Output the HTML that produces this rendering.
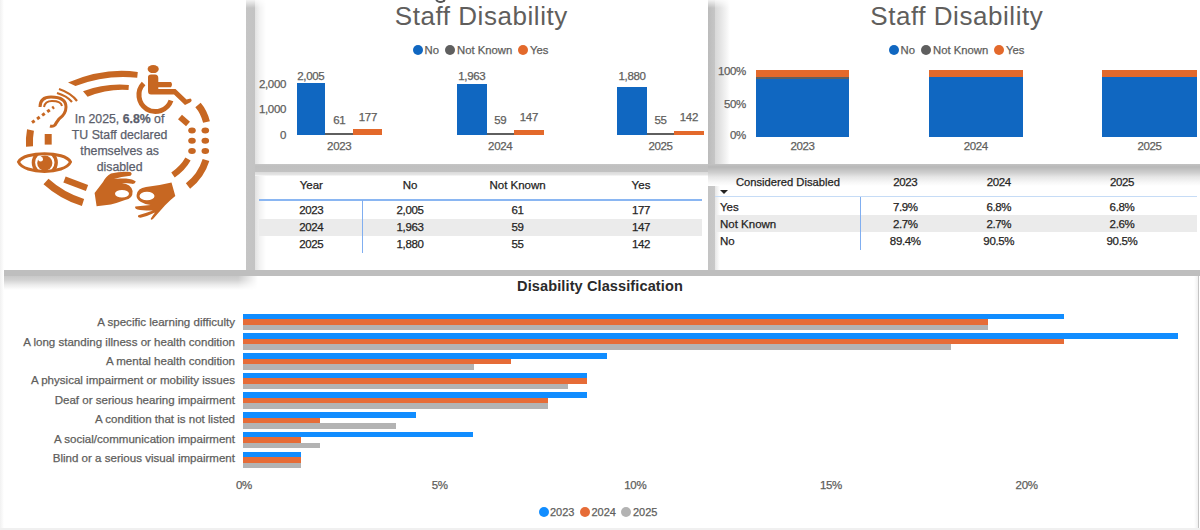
<!DOCTYPE html>
<html><head><meta charset="utf-8">
<style>
*{margin:0;padding:0;box-sizing:border-box}
html,body{width:1200px;height:530px;overflow:hidden;background:#fff;font-family:"Liberation Sans",sans-serif}
.abs{position:absolute}
.t{position:absolute;white-space:nowrap;line-height:1;-webkit-text-stroke:0.25px currentColor}
</style></head><body>
<div class="abs" style="left:246px;top:0;width:20px;height:276px;background:linear-gradient(90deg,#c5c5c5 0,#c3c3c3 9px,#e3e3e3 9.5px,#f3f3f3 14px,#fff 20px);-webkit-mask-image:linear-gradient(180deg,rgba(0,0,0,.2) 0,#000 8px)"></div>
<div class="abs" style="left:708px;top:0;width:22px;height:164px;background:linear-gradient(90deg,#bbbbbb 0,#c2c2c2 4px,#c6c6c6 7px,#d9d9d9 7.5px,#e3e3e3 12px,#f3f3f3 18px,#fff 22px);-webkit-mask-image:linear-gradient(180deg,rgba(0,0,0,.2) 0,#000 8px)"></div>
<div class="abs" style="left:708px;top:164px;width:12px;height:112px;background:linear-gradient(90deg,#c4c4c4 0,#c8c8c8 6.5px,#e6e6e6 7px,#fff 12px)"></div>
<div class="abs" style="left:255px;top:163.5px;width:453px;height:12px;background:linear-gradient(180deg,#c6c6c6 0,#bfbfbf 2px,#c2c2c2 7.5px,#dcdcdc 8.5px,#e6e6e6 11px,#fff 12px)"></div>
<div class="abs" style="left:708px;top:163.8px;width:492px;height:22px;background:linear-gradient(180deg,#c2c2c2 0,#b8b8b8 3px,#d0d0d0 9px,#e6e6e6 13px,#f6f6f6 18px,#fff 22px)"></div>
<div class="abs" style="left:0;top:270px;width:1200px;height:6px;background:#bebebe"></div>
<div class="abs" style="left:0;top:276px;width:266px;height:14px;background:linear-gradient(180deg,#c8c8c8 0,#d2d2d2 4px,#ececec 9px,#fff 14px);-webkit-mask-image:linear-gradient(90deg,#000 238px,transparent 258px)"></div>
<div class="t" style="left:481.3px;top:2.9px;font-size:26px;color:#605e5c;font-weight:normal;transform:translateX(-50%);letter-spacing:0.55px;-webkit-text-stroke:0">Staff Disability</div>
<div class="abs" style="left:413.0px;top:45.0px;width:10.0px;height:10.0px;border-radius:50%;background:#1067c1"></div>
<div class="t" style="left:424.5px;top:44.5px;font-size:11.3px;color:#605e5c;font-weight:normal;transform:none;">No</div>
<div class="abs" style="left:445.0px;top:45.0px;width:10.0px;height:10.0px;border-radius:50%;background:#5f5f5f"></div>
<div class="t" style="left:457.0px;top:44.5px;font-size:11.3px;color:#605e5c;font-weight:normal;transform:none;">Not Known</div>
<div class="abs" style="left:518.0px;top:45.0px;width:10.0px;height:10.0px;border-radius:50%;background:#e3692b"></div>
<div class="t" style="left:530.0px;top:44.5px;font-size:11.3px;color:#605e5c;font-weight:normal;transform:none;">Yes</div>
<div class="t" style="left:286.0px;top:78.9px;font-size:11.5px;color:#605e5c;font-weight:normal;transform:translateX(-100%);letter-spacing:-0.35px;">2,000</div>
<div class="t" style="left:286.0px;top:103.8px;font-size:11.5px;color:#605e5c;font-weight:normal;transform:translateX(-100%);letter-spacing:-0.35px;">1,000</div>
<div class="t" style="left:286.0px;top:130.4px;font-size:11.5px;color:#605e5c;font-weight:normal;transform:translateX(-100%);letter-spacing:-0.35px;">0</div>
<div class="abs" style="left:296.6px;top:83.2px;width:28.4px;height:51.4px;background:#1067c1;"></div>
<div class="abs" style="left:325.0px;top:132.6px;width:28.4px;height:2.0px;background:#5f5f5f;"></div>
<div class="abs" style="left:353.4px;top:129.4px;width:29.1px;height:5.2px;background:#e3692b;"></div>
<div class="t" style="left:310.8px;top:70.6px;font-size:11.5px;color:#605e5c;font-weight:normal;transform:translateX(-50%);letter-spacing:-0.35px;">2,005</div>
<div class="t" style="left:339.2px;top:114.9px;font-size:11.5px;color:#605e5c;font-weight:normal;transform:translateX(-50%);letter-spacing:-0.35px;">61</div>
<div class="t" style="left:367.9px;top:112.4px;font-size:11.5px;color:#605e5c;font-weight:normal;transform:translateX(-50%);letter-spacing:-0.35px;">177</div>
<div class="t" style="left:339.2px;top:141.4px;font-size:11.5px;color:#605e5c;font-weight:normal;transform:translateX(-50%);letter-spacing:-0.35px;">2023</div>
<div class="abs" style="left:456.9px;top:84.3px;width:29.7px;height:50.3px;background:#1067c1;"></div>
<div class="abs" style="left:486.6px;top:132.6px;width:27.2px;height:2.0px;background:#5f5f5f;"></div>
<div class="abs" style="left:513.8px;top:130.4px;width:30.2px;height:4.2px;background:#e3692b;"></div>
<div class="t" style="left:471.8px;top:70.6px;font-size:11.5px;color:#605e5c;font-weight:normal;transform:translateX(-50%);letter-spacing:-0.35px;">1,963</div>
<div class="t" style="left:500.2px;top:114.9px;font-size:11.5px;color:#605e5c;font-weight:normal;transform:translateX(-50%);letter-spacing:-0.35px;">59</div>
<div class="t" style="left:528.9px;top:112.4px;font-size:11.5px;color:#605e5c;font-weight:normal;transform:translateX(-50%);letter-spacing:-0.35px;">147</div>
<div class="t" style="left:500.2px;top:141.4px;font-size:11.5px;color:#605e5c;font-weight:normal;transform:translateX(-50%);letter-spacing:-0.35px;">2024</div>
<div class="abs" style="left:617.0px;top:86.5px;width:30.0px;height:48.1px;background:#1067c1;"></div>
<div class="abs" style="left:647.0px;top:132.6px;width:27.0px;height:2.0px;background:#5f5f5f;"></div>
<div class="abs" style="left:674.0px;top:130.6px;width:29.7px;height:4.0px;background:#e3692b;"></div>
<div class="t" style="left:632.0px;top:70.6px;font-size:11.5px;color:#605e5c;font-weight:normal;transform:translateX(-50%);letter-spacing:-0.35px;">1,880</div>
<div class="t" style="left:660.5px;top:114.9px;font-size:11.5px;color:#605e5c;font-weight:normal;transform:translateX(-50%);letter-spacing:-0.35px;">55</div>
<div class="t" style="left:688.9px;top:112.4px;font-size:11.5px;color:#605e5c;font-weight:normal;transform:translateX(-50%);letter-spacing:-0.35px;">142</div>
<div class="t" style="left:660.5px;top:141.4px;font-size:11.5px;color:#605e5c;font-weight:normal;transform:translateX(-50%);letter-spacing:-0.35px;">2025</div>
<div class="t" style="left:956.8px;top:2.9px;font-size:26px;color:#605e5c;font-weight:normal;transform:translateX(-50%);letter-spacing:0.55px;-webkit-text-stroke:0">Staff Disability</div>
<div class="abs" style="left:889.0px;top:45.0px;width:10.0px;height:10.0px;border-radius:50%;background:#1067c1"></div>
<div class="t" style="left:900.5px;top:44.5px;font-size:11.3px;color:#605e5c;font-weight:normal;transform:none;">No</div>
<div class="abs" style="left:921.0px;top:45.0px;width:10.0px;height:10.0px;border-radius:50%;background:#5f5f5f"></div>
<div class="t" style="left:933.0px;top:44.5px;font-size:11.3px;color:#605e5c;font-weight:normal;transform:none;">Not Known</div>
<div class="abs" style="left:994.0px;top:45.0px;width:10.0px;height:10.0px;border-radius:50%;background:#e3692b"></div>
<div class="t" style="left:1006.0px;top:44.5px;font-size:11.3px;color:#605e5c;font-weight:normal;transform:none;">Yes</div>
<div class="t" style="left:746.0px;top:66.2px;font-size:11.5px;color:#605e5c;font-weight:normal;transform:translateX(-100%);letter-spacing:-0.35px;">100%</div>
<div class="t" style="left:746.0px;top:98.8px;font-size:11.5px;color:#605e5c;font-weight:normal;transform:translateX(-100%);letter-spacing:-0.35px;">50%</div>
<div class="t" style="left:746.0px;top:130.4px;font-size:11.5px;color:#605e5c;font-weight:normal;transform:translateX(-100%);letter-spacing:-0.35px;">0%</div>
<div class="abs" style="left:756.0px;top:70.0px;width:93.0px;height:67.0px;background:#1067c1;"></div>
<div class="abs" style="left:756.0px;top:70.0px;width:93.0px;height:8.5px;background:#5f5f5f;"></div>
<div class="abs" style="left:756.0px;top:70.0px;width:93.0px;height:7.0px;background:#e3692b;"></div>
<div class="t" style="left:802.5px;top:141.1px;font-size:11.5px;color:#605e5c;font-weight:normal;transform:translateX(-50%);letter-spacing:-0.35px;">2023</div>
<div class="abs" style="left:929.0px;top:70.0px;width:93.5px;height:67.0px;background:#1067c1;"></div>
<div class="abs" style="left:929.0px;top:70.0px;width:93.5px;height:7.0px;background:#e3692b;"></div>
<div class="t" style="left:975.8px;top:141.1px;font-size:11.5px;color:#605e5c;font-weight:normal;transform:translateX(-50%);letter-spacing:-0.35px;">2024</div>
<div class="abs" style="left:1102.0px;top:70.0px;width:95.0px;height:67.0px;background:#1067c1;"></div>
<div class="abs" style="left:1102.0px;top:70.0px;width:95.0px;height:7.0px;background:#e3692b;"></div>
<div class="t" style="left:1149.5px;top:141.1px;font-size:11.5px;color:#605e5c;font-weight:normal;transform:translateX(-50%);letter-spacing:-0.35px;">2025</div>
<div class="t" style="left:311.3px;top:180.4px;font-size:11.5px;color:#252423;font-weight:normal;transform:translateX(-50%);">Year</div>
<div class="t" style="left:410.0px;top:180.4px;font-size:11.5px;color:#252423;font-weight:normal;transform:translateX(-50%);">No</div>
<div class="t" style="left:517.6px;top:180.4px;font-size:11.5px;color:#252423;font-weight:normal;transform:translateX(-50%);">Not Known</div>
<div class="t" style="left:641.0px;top:180.4px;font-size:11.5px;color:#252423;font-weight:normal;transform:translateX(-50%);">Yes</div>
<div class="abs" style="left:258.5px;top:199.2px;width:443.5px;height:1.4px;background:#8ab6f2;"></div>
<div class="abs" style="left:258.5px;top:218.5px;width:443.5px;height:17.0px;background:#ebebeb;"></div>
<div class="abs" style="left:362.0px;top:200.0px;width:1.3px;height:53.0px;background:#80aef0;"></div>
<div class="t" style="left:311.3px;top:205.0px;font-size:11.5px;color:#252423;font-weight:normal;transform:translateX(-50%);letter-spacing:-0.35px;">2023</div>
<div class="t" style="left:410.0px;top:205.0px;font-size:11.5px;color:#252423;font-weight:normal;transform:translateX(-50%);letter-spacing:-0.35px;">2,005</div>
<div class="t" style="left:517.6px;top:205.0px;font-size:11.5px;color:#252423;font-weight:normal;transform:translateX(-50%);letter-spacing:-0.35px;">61</div>
<div class="t" style="left:641.0px;top:205.0px;font-size:11.5px;color:#252423;font-weight:normal;transform:translateX(-50%);letter-spacing:-0.35px;">177</div>
<div class="t" style="left:311.3px;top:221.9px;font-size:11.5px;color:#252423;font-weight:normal;transform:translateX(-50%);letter-spacing:-0.35px;">2024</div>
<div class="t" style="left:410.0px;top:221.9px;font-size:11.5px;color:#252423;font-weight:normal;transform:translateX(-50%);letter-spacing:-0.35px;">1,963</div>
<div class="t" style="left:517.6px;top:221.9px;font-size:11.5px;color:#252423;font-weight:normal;transform:translateX(-50%);letter-spacing:-0.35px;">59</div>
<div class="t" style="left:641.0px;top:221.9px;font-size:11.5px;color:#252423;font-weight:normal;transform:translateX(-50%);letter-spacing:-0.35px;">147</div>
<div class="t" style="left:311.3px;top:238.9px;font-size:11.5px;color:#252423;font-weight:normal;transform:translateX(-50%);letter-spacing:-0.35px;">2025</div>
<div class="t" style="left:410.0px;top:238.9px;font-size:11.5px;color:#252423;font-weight:normal;transform:translateX(-50%);letter-spacing:-0.35px;">1,880</div>
<div class="t" style="left:517.6px;top:238.9px;font-size:11.5px;color:#252423;font-weight:normal;transform:translateX(-50%);letter-spacing:-0.35px;">55</div>
<div class="t" style="left:641.0px;top:238.9px;font-size:11.5px;color:#252423;font-weight:normal;transform:translateX(-50%);letter-spacing:-0.35px;">142</div>
<div class="t" style="left:736.0px;top:177.1px;font-size:11.2px;color:#252423;font-weight:normal;transform:none;">Considered Disabled</div>
<div class="abs" style="left:719.5px;top:190px;width:0;height:0;border-left:4px solid transparent;border-right:4px solid transparent;border-top:4px solid #252423"></div>
<div class="t" style="left:905.3px;top:177.0px;font-size:11.5px;color:#252423;font-weight:normal;transform:translateX(-50%);letter-spacing:-0.35px;">2023</div>
<div class="t" style="left:998.8px;top:177.0px;font-size:11.5px;color:#252423;font-weight:normal;transform:translateX(-50%);letter-spacing:-0.35px;">2024</div>
<div class="t" style="left:1122.0px;top:177.0px;font-size:11.5px;color:#252423;font-weight:normal;transform:translateX(-50%);letter-spacing:-0.35px;">2025</div>
<div class="abs" style="left:714.5px;top:196.0px;width:482.5px;height:1.2px;background:#c6dcf6;"></div>
<div class="abs" style="left:714.5px;top:214.8px;width:482.5px;height:17.0px;background:#ebebeb;"></div>
<div class="abs" style="left:860.0px;top:197.0px;width:1.3px;height:52.6px;background:#80aef0;"></div>
<div class="t" style="left:720.0px;top:201.9px;font-size:11.5px;color:#252423;font-weight:normal;transform:none;">Yes</div>
<div class="t" style="left:905.3px;top:201.9px;font-size:11.5px;color:#252423;font-weight:normal;transform:translateX(-50%);letter-spacing:-0.35px;">7.9%</div>
<div class="t" style="left:998.8px;top:201.9px;font-size:11.5px;color:#252423;font-weight:normal;transform:translateX(-50%);letter-spacing:-0.35px;">6.8%</div>
<div class="t" style="left:1122.0px;top:201.9px;font-size:11.5px;color:#252423;font-weight:normal;transform:translateX(-50%);letter-spacing:-0.35px;">6.8%</div>
<div class="t" style="left:720.0px;top:218.9px;font-size:11.5px;color:#252423;font-weight:normal;transform:none;">Not Known</div>
<div class="t" style="left:905.3px;top:218.9px;font-size:11.5px;color:#252423;font-weight:normal;transform:translateX(-50%);letter-spacing:-0.35px;">2.7%</div>
<div class="t" style="left:998.8px;top:218.9px;font-size:11.5px;color:#252423;font-weight:normal;transform:translateX(-50%);letter-spacing:-0.35px;">2.7%</div>
<div class="t" style="left:1122.0px;top:218.9px;font-size:11.5px;color:#252423;font-weight:normal;transform:translateX(-50%);letter-spacing:-0.35px;">2.6%</div>
<div class="t" style="left:720.0px;top:236.2px;font-size:11.5px;color:#252423;font-weight:normal;transform:none;">No</div>
<div class="t" style="left:905.3px;top:236.2px;font-size:11.5px;color:#252423;font-weight:normal;transform:translateX(-50%);letter-spacing:-0.35px;">89.4%</div>
<div class="t" style="left:998.8px;top:236.2px;font-size:11.5px;color:#252423;font-weight:normal;transform:translateX(-50%);letter-spacing:-0.35px;">90.5%</div>
<div class="t" style="left:1122.0px;top:236.2px;font-size:11.5px;color:#252423;font-weight:normal;transform:translateX(-50%);letter-spacing:-0.35px;">90.5%</div>
<div class="t" style="left:600.0px;top:278.9px;font-size:14.55px;color:#2a2a2a;font-weight:bold;transform:translateX(-50%);-webkit-text-stroke:0;letter-spacing:0.1px">Disability Classification</div>
<div class="abs" style="left:242.8px;top:313.6px;width:821.7px;height:5.5px;background:#118dff;"></div>
<div class="abs" style="left:242.8px;top:319.1px;width:745.4px;height:5.5px;background:#e66c37;"></div>
<div class="abs" style="left:242.8px;top:324.6px;width:745.4px;height:5.5px;background:#b3b3b3;"></div>
<div class="t" style="left:235.0px;top:317.0px;font-size:11.56px;color:#605e5c;font-weight:normal;transform:translateX(-100%);">A specific learning difficulty</div>
<div class="abs" style="left:242.8px;top:333.3px;width:935.2px;height:5.5px;background:#118dff;"></div>
<div class="abs" style="left:242.8px;top:338.8px;width:821.7px;height:5.5px;background:#e66c37;"></div>
<div class="abs" style="left:242.8px;top:344.3px;width:708.3px;height:5.5px;background:#b3b3b3;"></div>
<div class="t" style="left:235.0px;top:336.5px;font-size:11.56px;color:#605e5c;font-weight:normal;transform:translateX(-100%);">A long standing illness or health condition</div>
<div class="abs" style="left:242.8px;top:353.0px;width:363.9px;height:5.5px;background:#118dff;"></div>
<div class="abs" style="left:242.8px;top:358.5px;width:268.0px;height:5.5px;background:#e66c37;"></div>
<div class="abs" style="left:242.8px;top:364.0px;width:230.9px;height:5.5px;background:#b3b3b3;"></div>
<div class="t" style="left:235.0px;top:356.0px;font-size:11.56px;color:#605e5c;font-weight:normal;transform:translateX(-100%);">A mental health condition</div>
<div class="abs" style="left:242.8px;top:372.7px;width:344.3px;height:5.5px;background:#118dff;"></div>
<div class="abs" style="left:242.8px;top:378.2px;width:344.3px;height:5.5px;background:#e66c37;"></div>
<div class="abs" style="left:242.8px;top:383.7px;width:324.8px;height:5.5px;background:#b3b3b3;"></div>
<div class="t" style="left:235.0px;top:375.4px;font-size:11.56px;color:#605e5c;font-weight:normal;transform:translateX(-100%);">A physical impairment or mobility issues</div>
<div class="abs" style="left:242.8px;top:392.4px;width:344.3px;height:5.5px;background:#118dff;"></div>
<div class="abs" style="left:242.8px;top:397.9px;width:305.2px;height:5.5px;background:#e66c37;"></div>
<div class="abs" style="left:242.8px;top:403.4px;width:305.2px;height:5.5px;background:#b3b3b3;"></div>
<div class="t" style="left:235.0px;top:394.9px;font-size:11.56px;color:#605e5c;font-weight:normal;transform:translateX(-100%);">Deaf or serious hearing impairment</div>
<div class="abs" style="left:242.8px;top:412.1px;width:173.0px;height:5.5px;background:#118dff;"></div>
<div class="abs" style="left:242.8px;top:417.6px;width:77.1px;height:5.5px;background:#e66c37;"></div>
<div class="abs" style="left:242.8px;top:423.1px;width:153.4px;height:5.5px;background:#b3b3b3;"></div>
<div class="t" style="left:235.0px;top:414.3px;font-size:11.56px;color:#605e5c;font-weight:normal;transform:translateX(-100%);">A condition that is not listed</div>
<div class="abs" style="left:242.8px;top:431.8px;width:230.1px;height:5.5px;background:#118dff;"></div>
<div class="abs" style="left:242.8px;top:437.3px;width:58.7px;height:5.5px;background:#e66c37;"></div>
<div class="abs" style="left:242.8px;top:442.8px;width:77.1px;height:5.5px;background:#b3b3b3;"></div>
<div class="t" style="left:235.0px;top:433.8px;font-size:11.56px;color:#605e5c;font-weight:normal;transform:translateX(-100%);">A social/communication impairment</div>
<div class="abs" style="left:242.8px;top:451.5px;width:58.7px;height:5.5px;background:#118dff;"></div>
<div class="abs" style="left:242.8px;top:457.0px;width:58.7px;height:5.5px;background:#e66c37;"></div>
<div class="abs" style="left:242.8px;top:462.5px;width:58.7px;height:5.5px;background:#b3b3b3;"></div>
<div class="t" style="left:235.0px;top:453.3px;font-size:11.56px;color:#605e5c;font-weight:normal;transform:translateX(-100%);">Blind or a serious visual impairment</div>
<div class="t" style="left:244.0px;top:480.4px;font-size:11.5px;color:#605e5c;font-weight:normal;transform:translateX(-50%);letter-spacing:-0.35px;">0%</div>
<div class="t" style="left:439.6px;top:480.4px;font-size:11.5px;color:#605e5c;font-weight:normal;transform:translateX(-50%);letter-spacing:-0.35px;">5%</div>
<div class="t" style="left:635.3px;top:480.4px;font-size:11.5px;color:#605e5c;font-weight:normal;transform:translateX(-50%);letter-spacing:-0.35px;">10%</div>
<div class="t" style="left:831.0px;top:480.4px;font-size:11.5px;color:#605e5c;font-weight:normal;transform:translateX(-50%);letter-spacing:-0.35px;">15%</div>
<div class="t" style="left:1026.6px;top:480.4px;font-size:11.5px;color:#605e5c;font-weight:normal;transform:translateX(-50%);letter-spacing:-0.35px;">20%</div>
<div class="abs" style="left:539.0px;top:507.0px;width:10.0px;height:10.0px;border-radius:50%;background:#118dff"></div>
<div class="t" style="left:550.0px;top:506.6px;font-size:11px;color:#605e5c;font-weight:normal;transform:none;">2023</div>
<div class="abs" style="left:580.0px;top:507.0px;width:10.0px;height:10.0px;border-radius:50%;background:#e66c37"></div>
<div class="t" style="left:591.5px;top:506.6px;font-size:11px;color:#605e5c;font-weight:normal;transform:none;">2024</div>
<div class="abs" style="left:621.0px;top:507.0px;width:10.0px;height:10.0px;border-radius:50%;background:#b3b3b3"></div>
<div class="t" style="left:633.0px;top:506.6px;font-size:11px;color:#605e5c;font-weight:normal;transform:none;">2025</div>
<div class="abs" style="left:1197.6px;top:276.0px;width:1.6px;height:254.0px;background:#c4c4c4;"></div>
<div class="abs" style="left:1194.0px;top:276.0px;width:3.6px;height:254.0px;background:linear-gradient(90deg,#fff,#f0f0f0);"></div>
<div class="abs" style="left:435px;top:-4px;width:10.5px;height:6.5px;border:2.2px solid #555;border-top:none;border-radius:0 0 5px 5px"></div>
<div class="abs" style="left:0;top:0;width:4px;height:530px;background:linear-gradient(90deg,#f1f1f1,#fff)"></div>
<div class="abs" style="left:0.0px;top:528.0px;width:1200.0px;height:2.0px;background:#f0f0f0;"></div>
<svg class="abs" style="left:0;top:0" width="246" height="270" viewBox="0 0 246 270">
<defs><clipPath id="eyeclip"><path d="M18.5,162 C24,151 65,151 70.5,162 C65,174.5 24,174.5 18.5,162 Z"/></clipPath></defs>
<g fill="none" stroke="#c76722" stroke-linecap="butt">
 <!-- outer dashed ellipse -->
 <path d="M68,82.4 Q105,67 137.8,72 L137.2,77.8 Q106,74.4 75.5,86 Z" fill="#c76722" stroke="none"/>
 <path d="M30.5,130 Q29,138 29.5,146.5" stroke-width="7"/>
 <path d="M46,181.5 Q62,196 83,202.5" stroke-width="7.5"/>
 <path d="M198,105 Q204,112 206.5,122" stroke-width="7"/>
 <path d="M206,160 Q201,176 188,186" stroke-width="7"/>
 <!-- inner dashed ellipse -->
 <path d="M83,91.3 Q105,83 128.9,85 L128.5,90 Q108,88.5 87.6,96.8 Z" fill="#c76722" stroke="none"/>
 <path d="M48.2,134 L48.2,144.6" stroke-width="7"/>
 <path d="M64.5,179.5 L87,188" stroke-width="6.5"/>
 <path d="M180,117 L188,124" stroke-width="6"/>
 <path d="M188,159 Q183,168 173,175" stroke-width="6"/>
 <!-- ear -->
 <path d="M40,107 Q40,97 51,97 Q66,97 66,107 Q66,114 59,119 Q56,123 55,125 Q53,127 50,126" stroke-width="3"/>
 <path d="M44,107 Q45,101 52,101 Q61,101 62,106" stroke-width="2"/>
 <path d="M57,93 Q67,96 72,102" stroke-width="2.2"/>
 <path d="M59,89 Q71,93 77,101" stroke-width="2.2"/>
 <path d="M32,122.5 L54,107" stroke-width="3" stroke-dasharray="3.2 3"/>
 <!-- wheelchair wheel -->
 <path d="M143.6,83.5 A16.5,16.5 0 1 0 171,100.5" stroke-width="5"/>
 <!-- eye -->
 <path d="M18.5,162 C24,151 65,151 70.5,162 C65,174.5 24,174.5 18.5,162 Z" stroke-width="3"/>
 <circle cx="44.8" cy="162.6" r="11.4" stroke-width="3.4" clip-path="url(#eyeclip)"/>
</g>
<g fill="#c76722">
 <!-- wheelchair person -->
 <ellipse cx="153.2" cy="69.1" rx="5.6" ry="4"/>
 <path d="M148,77 Q148,74.5 151,74.5 L155,74.5 Q158.3,74.5 158.3,78 L158.3,82 L171,82 Q173,84.5 171,87.2 L158.3,87.2 L158.3,88.9 L175.5,88.9 L186.5,99.5 L190.5,98.5 Q193,100.5 190,102.5 L185,105 L174,94.5 L151,94.5 Q148,94.5 148,91 Z"/>
 <!-- pupil -->
 <circle cx="44.8" cy="163" r="7.6"/>
 <!-- braille dots -->
 <ellipse cx="192" cy="130.5" rx="3.8" ry="3"/><ellipse cx="205.3" cy="130.5" rx="3.8" ry="3"/>
 <ellipse cx="192" cy="140.8" rx="3.8" ry="3"/><ellipse cx="205.3" cy="140.8" rx="3.8" ry="3"/>
 <ellipse cx="192" cy="151" rx="3.8" ry="3"/><ellipse cx="205.3" cy="151" rx="3.8" ry="3"/>
 <!-- left hand -->
 <path fill-rule="evenodd" d="M94.6,192.9 L103,182 Q106,176 111,173.5 Q121,171 130.5,172 Q132.8,173.8 130.5,175.8 Q121,176.5 114,179 Q118,178 126,178.6 Q133,179.3 135.8,181.5 Q135,184.3 132,183.8 Q127,182.8 122,183 Q131,184 132.6,191 Q133,199 125,200 Q117,203 110.8,204.5 L96.6,206.2 Z M115,193.8 A7,3.8 0 1 0 129,193.8 A7,3.8 0 1 0 115,193.8 Z"/>
 <!-- right hand -->
 <path fill-rule="evenodd" d="M171.5,182.6 L175.3,195.9 Q170,200 164.9,205.4 Q159,212 153,219 Q150.5,220.8 150.8,218.5 Q153,215 155,212.5 Q148,216 140.5,217.8 Q137,217.5 138.3,215.3 Q146,213 153,210.5 Q146,210.5 140,210 Q134,209 135.3,206.5 Q143,205.8 150.5,205 Q145,204.5 141,202 Q136,199 136.6,195 Q137.5,188 146,187 Q160,185.5 171.5,182.6 Z M139.5,196 A7.5,4.3 0 1 0 154.5,196 A7.5,4.3 0 1 0 139.5,196 Z"/>
</g>
<circle cx="40.6" cy="159.2" r="2.4" fill="#fff"/>
</svg>
<div class="t" style="left:119.6px;top:112px;font-size:12.3px;line-height:15.9px;color:#5b5e6b;text-align:center;transform:translateX(-50%)">In 2025, <b>6.8%</b> of<br>TU Staff declared<br>themselves as<br>disabled</div>

</body></html>
